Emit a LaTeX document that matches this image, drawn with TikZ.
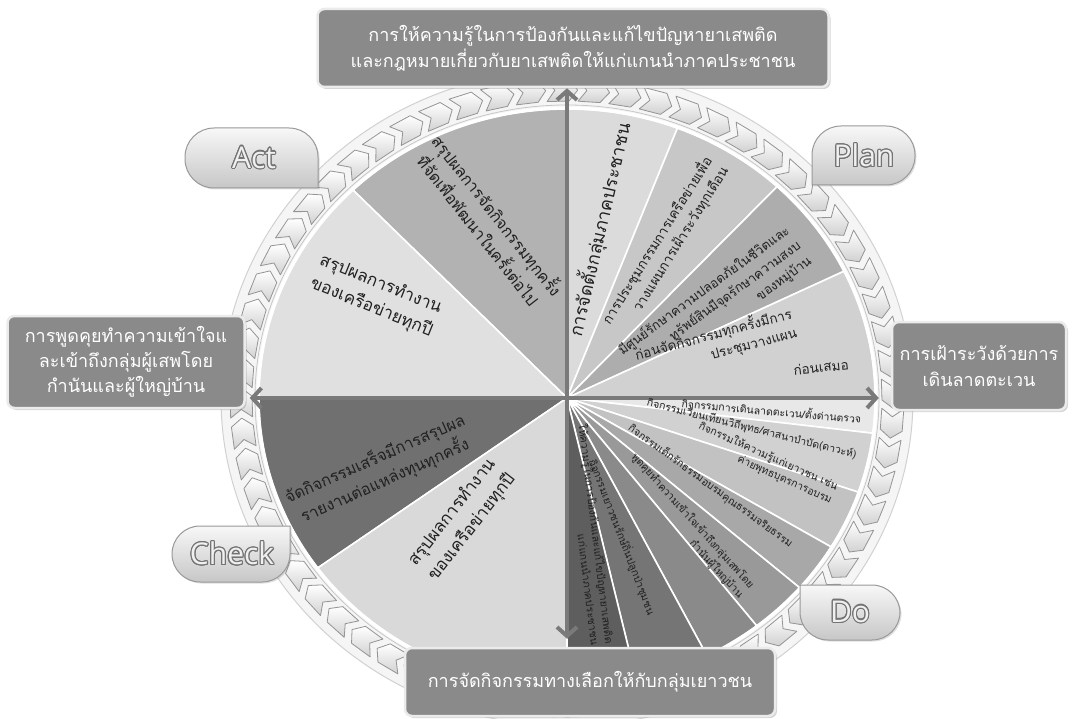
\documentclass[tikz,border=0pt]{standalone}
\usepackage{fontspec}
\setmainfont{Open Sans}
\newfontfamily\thai[Script=Thai]{Loma}
\usepackage{contour}
\contourlength{1.1pt}
\usetikzlibrary{arrows.meta,shadows,calc}
\pgfdeclarelayer{bg}
\pgfsetlayers{bg,main}
\definecolor{boxgray}{HTML}{8A8A8A}
\definecolor{arrgray}{HTML}{7A7A7A}
\definecolor{txtdark}{HTML}{202020}
\tikzset{
  box/.style={fill=boxgray, draw=black!8, line width=2.5pt, rounded corners=7pt,
    drop shadow={shadow xshift=2pt, shadow yshift=-2pt, opacity=0.35},
    text=white, font=\thai\fontsize{18}{26}\selectfont, align=center, inner sep=4pt},
  sectext/.style={font=\thai\fontsize{17}{25}\selectfont, text=txtdark, align=center, inner sep=1pt},
  smalltext/.style={font=\thai\fontsize{10.5}{14.5}\selectfont, text=txtdark, align=right, inner sep=0.5pt},
  midtext/.style={font=\thai\fontsize{13.5}{19}\selectfont, text=txtdark, align=right, inner sep=1pt},
  chev/.style={draw=black!42, line width=0.8pt, line join=round, top color=white, bottom color=black!18},
  callout/.style={draw=black!40, line width=1pt, top color=black!3, bottom color=black!22,
    drop shadow={shadow xshift=1.5pt, shadow yshift=-1.5pt, opacity=0.25}},
  pdca/.style={font=\fontsize{30}{32}\selectfont, inner sep=0pt},
  dblarrow/.style={arrgray, line width=4pt,
    {Straight Barb[length=9pt,width=20pt]}-{Straight Barb[length=9pt,width=20pt]}},
  sector/.style={draw=white, line width=1.6pt, line join=round}
}
\newcommand{\pdcatext}[1]{\contour{black!55}{\textcolor{black!6}{#1}}}
\begin{document}
\begin{tikzpicture}[x=1pt,y=-1pt]
\useasboundingbox (0,0) rectangle (1092,719);
\coordinate (ctr) at (567,398);

% ---------- boxes (main layer, on top) ----------
\node[box, minimum width=511pt, minimum height=78pt] (topbox) at (573,48)
  {การให้ความรู้ในการป้องกันและแก้ไขปัญหายาเสพติด\\และกฎหมายเกี่ยวกับยาเสพติดให้แก่แกนนำภาคประชาชน};
\node[box, minimum width=237pt, minimum height=92pt, font=\thai\fontsize{18}{25}\selectfont] (leftbox) at (126,362)
  {การพูดคุยทำความเข้าใจแ\\ละเข้าถึงกลุ่มผู้เสพโดย\\กำนันและผู้ใหญ่บ้าน};
\node[box, minimum width=174pt, minimum height=88pt] (rightbox) at (979,366)
  {การเฝ้าระวังด้วยการ\\เดินลาดตะเวน};
\node[box, minimum width=370pt, minimum height=68pt] (botbox) at (590,682)
  {การจัดกิจกรรมทางเลือกให้กับกลุ่มเยาวชน};

% ---------- callouts ----------
\draw[callout] (318,158) [rounded corners=29pt] -- (318,128) -- (185,128) -- (185,188) [sharp corners] -- (318,188) -- cycle;
\node[pdca] (act) at (254,158) {\pdcatext{Act}};
\draw[callout] (812,155) [rounded corners=29pt] -- (812,126) -- (915,126) -- (915,185) [sharp corners] -- (812,185) -- cycle;
\node[pdca] (plan) at (864,156) {\pdcatext{Plan}};
\draw[callout] (290,555) [rounded corners=28pt] -- (290,582) -- (172,582) -- (172,526) [sharp corners] -- (290,526) -- cycle;
\node[pdca] (check) at (232,554) {\pdcatext{Check}};
\draw[callout] (800,612) [rounded corners=28pt] -- (800,640) -- (900,640) -- (900,585) [sharp corners] -- (800,585) -- cycle;
\node[pdca] (do) at (850,612) {\pdcatext{Do}};

\begin{pgfonlayer}{bg}
% ring band
\filldraw[fill=black!4, draw=black!18, line width=1pt] (ctr) ellipse [x radius=346, y radius=328];
% sectors
\foreach \a/\b/\c in {69/90/black!14, 47/69/black!22, 26/47/black!32, 0/26/black!18,
  -7/0/black!9, -19/-7/black!18, -31/-19/black!24, -41/-31/black!34, -52/-41/black!40,
  -63/-52/black!46, -77/-63/black!54, -90/-77/black!63,
  90/134/black!30, 134/180/black!12, 180/216/black!56, 216/270/black!15}{
  \filldraw[sector, fill=\c] (ctr) -- plot[domain=\a:\b, samples=30] ({567+308*cos(\x)},{398-289*sin(\x)}) -- cycle;
}
\draw[white, line width=3pt] (ctr) ellipse [x radius=309, y radius=290];
\draw[black!22, line width=0.8pt] (ctr) ellipse [x radius=312, y radius=293];
% chevrons
\foreach \i in {0,...,63}{
  \pgfmathsetmacro\ta{88-\i*5.625}
  \pgfmathsetmacro\tb{\ta-4.0}
  \pgfmathsetmacro\tn{\ta-1.5}
  \pgfmathsetmacro\tt{\tb-1.5}
  \draw[chev] ({567+337*cos(\ta)},{398-319*sin(\ta)}) -- ({567+326*cos(\tn)},{398-308*sin(\tn)})
    -- ({567+315*cos(\ta)},{398-297*sin(\ta)}) -- ({567+315*cos(\tb)},{398-297*sin(\tb)})
    -- ({567+326*cos(\tt)},{398-308*sin(\tt)}) -- ({567+337*cos(\tb)},{398-319*sin(\tb)}) -- cycle;
}
% arrows
\draw[dblarrow] ([xshift=4pt]leftbox.east |- ctr) -- ([xshift=-12pt]rightbox.west |- ctr);
\draw[dblarrow] (topbox.south -| ctr) -- ([yshift=8pt]botbox.north -| ctr);
\end{pgfonlayer}

% ---------- sector texts ----------
% right (Plan)
\node[sectext, font=\thai\fontsize{18}{24}\selectfont, rotate=77, anchor=east] (s1) at (624,122) {การจัดตั้งกลุ่มภาคประชาชน};
\node[midtext, rotate=58, anchor=east] (s2) at (717,162) {การประชุมกรรมการเครือข่ายเพื่อ\\วางแผนการเฝ้าระวังทุกเดือน};
\node[midtext, font=\thai\fontsize{13}{18.5}\selectfont, rotate=36, anchor=east] (s3) at (800,244) {มีศูนย์รักษาความปลอดภัยในชีวิตและ\\ทรัพย์สินมีจุดรักษาความสงบ\\ของหมู่บ้าน};
\node[midtext, rotate=15, anchor=east] (s4) at (795,322) {ก่อนจัดกิจกรรมทุกครั้งมีการ\\ประชุมวางแผน};
\node[midtext, rotate=6] (s4b) at (821,367) {ก่อนเสมอ};
% lower right (Do)
\node[smalltext, rotate=-5, anchor=east] (d1) at (862,418) {กิจกรรมการเดินลาดตะเวน/ตั้งด่านตรวจ};
\node[smalltext, rotate=-14, anchor=east] (d2) at (857,455) {กิจกรรมเวียนเทียนวิถีพุทธ/ศาสนาบำบัด(ดาวะห์)};
\node[smalltext, rotate=-24, anchor=east] (d3) at (835,494) {กิจกรรมให้ความรู้แก่เยาวชน เช่น\\ค่ายพุทธบุตรการอบรม};
\node[smalltext, rotate=-36, anchor=east] (d4) at (792,545) {กิจกรรมเด็กรักธรรมอบรมคุณธรรมจริยธรรม};
\node[smalltext, rotate=-48, anchor=east] (d5) at (747,592) {พูดคุยทำความเข้าใจเข้าถึงกลุ่มเสพโดย\\กำนันผู้ใหญ่บ้าน};
\node[smalltext, rotate=-69, anchor=east] (d7) at (652,615) {กิจกรรมเยาวชนรักษ์ถิ่นปลูกป่าชุมชน};
\node[smalltext, rotate=-83, anchor=east] (d8) at (603,645) {ให้ความรู้ในการป้องกันและแก้ไขปัญหายาเสพติด\\แก่แกนนำภาคประชาชน};
% left
\node[sectext, font=\thai\fontsize{16}{24}\selectfont, rotate=-52] (a1) at (489,222) {สรุปผลการจัดกิจกรรมทุกครั้ง\\ที่จัดเพื่อพัฒนาในครั้งต่อไป};
\node[sectext, rotate=-22] (a2) at (376,296) {สรุปผลการทำงาน\\ของเครือข่ายทุกปี};
\node[sectext, font=\thai\fontsize{16}{24}\selectfont, rotate=24] (c1) at (380,470) {จัดกิจกรรมเสร็จมีการสรุปผล\\รายงานต่อแหล่งทุนทุกครั้ง};
\node[sectext, rotate=52] (c2) at (462,520) {สรุปผลการทำงาน\\ของเครือข่ายทุกปี};
\end{tikzpicture}
\end{document}
